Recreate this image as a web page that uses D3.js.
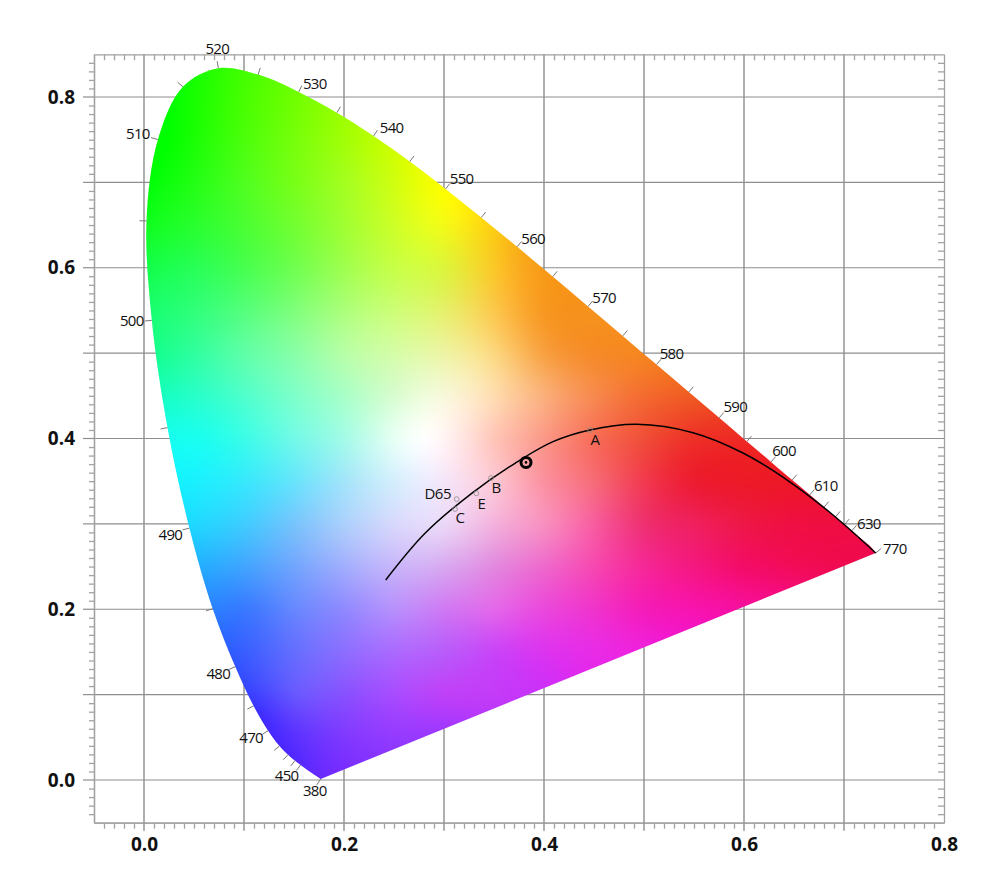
<!DOCTYPE html>
<html><head><meta charset="utf-8">
<script src="https://cdn.jsdelivr.net/npm/d3@7"></script>
<style>html,body{margin:0;padding:0;background:#fff}svg{display:block}text{font-family:"Open Sans",sans-serif;fill:#111}</style>
</head><body><svg id="c" width="1000" height="892"></svg>
<script>
// ---- data ----
const wavelengths=[380,440,450,455,460,465,470,475,480,485,490,495,500,505,510,515,520,525,530,535,540,545,550,555,560,565,570,575,580,585,590,595,600,605,610,615,620,625,630,640,650,770];
const locusX=[.1767,.1644,.1566,.1510,.1440,.1355,.1241,.1096,.0913,.0687,.0454,.0235,.0078,.0025,.0139,.0389,.0743,.1142,.1547,.1929,.2296,.2658,.3016,.3373,.3731,.4087,.4441,.4788,.5125,.5448,.5752,.6029,.6270,.6482,.6658,.6801,.6915,.7006,.7079,.7190,.7260,.7317];
const locusY=[.0012,.0109,.0177,.0227,.0297,.0399,.0578,.0868,.1327,.2007,.2950,.4127,.5384,.6548,.7502,.8120,.8338,.8262,.8059,.7816,.7543,.7243,.6923,.6589,.6245,.5896,.5547,.5202,.4866,.4544,.4242,.3965,.3725,.3514,.3340,.3197,.3083,.2993,.2920,.2809,.2740,.2659];
const tickedWavelengths=[380,450,455,460,465,470,475,480,485,490,495,500,505,510,515,520,525,530,535,540,545,550,555,560,565,570,575,580,585,590,595,600,605,610,615,620,625,630,770];
const labelledWavelengths=[380,450,470,480,490,500,510,520,530,540,550,560,570,580,590,600,610,630,770];
const curveX=[.2417,.281,.3277,.371,.409,.446,.4927,.549,.599,.646,.689,.7317];
const curveY=[.2343,.2890,.3358,.3710,.3963,.4100,.4166,.4068,.3830,.3490,.3104,.2659];
const illumNames=["A","B","E","C","D65"];
const illumX=[.446,.347,.3323,.311,.3127];
const illumY=[.41,.3537,.3358,.3174,.329];
const markerX=[.382];const markerY=[.372];
const majorX=[0,.1,.2,.3,.4,.5,.6,.7];
const majorY=[0,.1,.2,.3,.4,.5,.6,.7,.8];
const xLabels=[0,.2,.4,.6,.8];
const yLabels=[0,.2,.4,.6,.8];
// colour samples of the gradient field: x, y, colour
const fieldSamples=[
[.28,.40,"#ffffff"],[.0743,.8338,"#2cff00"],[.02,.74,"#00ff00"],[.003,.65,"#10ff20"],[.005,.55,"#18ff70"],[.015,.5,"#18ff90"],[.03,.4,"#18fff0"],[.05,.28,"#20c8ff"],[.07,.2,"#2c80ff"],[.09,.13,"#3050ff"],[.11,.08,"#3a2cff"],[.15,.02,"#5028ff"],[.1767,.0012,"#6a28ff"],
[.15,.8,"#70ff00"],[.23,.75,"#bcff00"],[.27,.72,"#e4ff00"],[.3,.69,"#ffff00"],[.34,.655,"#ffd810"],[.38,.62,"#f8a818"],[.45,.55,"#f7931e"],[.5,.5,"#f6861f"],[.55,.45,"#f05a22"],[.6,.4,"#ee2a24"],[.65,.33,"#ee1430"],[.7,.28,"#ef0c48"],[.7317,.2659,"#f00a50"],
[.7,.25,"#f00a50"],[.65,.23,"#f40c70"],[.6,.2,"#f610a0"],[.55,.18,"#f414c0"],[.5,.16,"#f020d8"],[.45,.135,"#e828e8"],[.4,.105,"#cc30f8"],[.3,.06,"#a038ff"],[.25,.04,"#9038ff"],
[.1,.8,"#48ff00"],[.1,.7,"#50ff20"],[.1,.6,"#48ff50"],[.05,.6,"#28ff58"],[.1,.5,"#60ffa8"],[.05,.5,"#30ffa0"],[.1,.4,"#3cfce8"],[.05,.4,"#18fff0"],
[.15,.7,"#78ff18"],[.15,.6,"#70ff50"],[.15,.5,"#88ffa8"],[.15,.4,"#74f9e8"],
[.2,.7,"#a4ff20"],[.2,.6,"#a0ff50"],[.2,.5,"#b8ffa8"],[.2,.45,"#a8ffc8"],[.2,.4,"#a4fbe8"],
[.25,.7,"#d0ff10"],[.25,.6,"#c8ff48"],[.25,.45,"#d8fcd0"],[.25,.4,"#e8fff4"],
[.3,.65,"#f4fa18"],[.3,.6,"#dcf53c"],[.3,.5,"#eef4a4"],[.3,.45,"#f8f8dc"],
[.35,.6,"#fcc828"],[.35,.55,"#fcc84c"],[.35,.5,"#fcd880"],[.35,.45,"#fedcb0"],[.35,.4,"#ffc4b8"],[.35,.35,"#fcc8d4"],[.35,.3,"#f4b0dc"],
[.3,.35,"#f4e4f8"],[.25,.35,"#d4eefc"],[.2,.35,"#a4e4fa"],[.15,.35,"#68e4fc"],[.1,.35,"#38e8fc"],
[.05,.3,"#20d8ff"],[.1,.3,"#40ccff"],[.15,.3,"#78c4fc"],[.2,.3,"#acd0fc"],[.25,.3,"#d8d8fc"],[.3,.3,"#ecd8f8"],
[.1,.2,"#3878ff"],[.15,.2,"#6888ff"],[.2,.2,"#9088ff"],[.25,.2,"#b890fc"],[.3,.2,"#d078f4"],[.35,.2,"#e468ea"],[.4,.2,"#ea48dc"],
[.1,.1,"#3440ff"],[.15,.1,"#6858ff"],[.2,.1,"#8850ff"],[.25,.1,"#a84cff"],[.3,.1,"#c040f8"],[.35,.1,"#c43cf8"],[.15,.05,"#5a30ff"],[.2,.05,"#7f38ff"],
[.4,.55,"#f79820"],[.4,.5,"#f8a040"],[.45,.5,"#f68a28"],[.5,.45,"#f46a30"],[.45,.45,"#f78a50"],[.4,.45,"#fbb07c"],
[.55,.4,"#ee3028"],[.5,.4,"#f04e38"],[.45,.4,"#f86c58"],[.4,.4,"#fb9888"],
[.55,.35,"#ed1c30"],[.6,.35,"#ed1a28"],[.5,.35,"#f23a50"],[.45,.35,"#f66c78"],[.4,.35,"#fb90a0"],
[.65,.3,"#f00f44"],[.6,.3,"#ee1848"],[.55,.3,"#f02060"],[.5,.3,"#ee3070"],[.45,.3,"#f85ca0"],[.4,.3,"#f890c0"],
[.65,.25,"#f20c58"],[.6,.25,"#f40c68"],[.55,.25,"#f41880"],[.5,.25,"#f62898"],[.45,.25,"#f648b0"],[.4,.25,"#ee68cc"],[.35,.25,"#e288e0"],[.3,.25,"#d8a8f0"],
[.55,.2,"#f814b0"],[.5,.2,"#f41cb8"],[.45,.2,"#f034cc"],
[.45,.15,"#e82ce8"],[.4,.15,"#dc34f0"],[.35,.15,"#c844f8"],[.3,.15,"#b85cfa"]
];

// ---- layout ----
const x=d3.scaleLinear().domain([-.05,.8]).range([94,944]);
const y=d3.scaleLinear().domain([-.05,.85]).range([822.7,54.3]);
const svg=d3.select("#c");
const gridCol="#8e8e8e",tickCol="#a3a3a3";

// grid
const grid=svg.append("g");
grid.selectAll(".v").data(majorX).join("line").attr("x1",d=>x(d)).attr("x2",d=>x(d)).attr("y1",y(.85)).attr("y2",y(-.05)).attr("stroke",gridCol).attr("stroke-width",1.4);
grid.selectAll(".h").data(majorY).join("line").attr("y1",d=>y(d)).attr("y2",d=>y(d)).attr("x1",x(-.05)).attr("x2",x(.8)).attr("stroke",gridCol).attr("stroke-width",1.2);

// minor ticks through axes
const minorX=d3.range(-4,80).map(i=>i/100).filter(v=>Math.round(v*100)%10!==0);
const minorY=d3.range(-4,85).map(i=>i/100).filter(v=>Math.round(v*100)%10!==0);
function style(g){g.select(".domain").attr("stroke","#a0a0a0").attr("stroke-width",1.3);g.selectAll(".tick line").attr("stroke",tickCol).attr("stroke-width",1.3);g.selectAll("text").attr("font-family",'"Open Sans",sans-serif').attr("font-weight",700).attr("font-size",19).attr("fill","#000");}
const ax=(a,t)=>svg.append("g").attr("transform",t).call(a).call(style);
ax(d3.axisBottom(x).tickValues(minorX).tickSize(6).tickSizeOuter(0).tickFormat(""),`translate(0,${y(-.05)})`);
ax(d3.axisTop(x).tickValues(minorX).tickSize(-6).tickSizeOuter(0).tickFormat(""),`translate(0,${y(.85)})`);
ax(d3.axisLeft(y).tickValues(minorY).tickSize(5).tickSizeOuter(0).tickFormat(""),`translate(${x(-.05)},0)`);
ax(d3.axisRight(y).tickValues(minorY).tickSize(-6).tickSizeOuter(0).tickFormat(""),`translate(${x(.8)},0)`);
ax(d3.axisBottom(x).tickValues(xLabels).tickSize(8).tickSizeOuter(0).tickPadding(7).tickFormat(d3.format(".1f")),`translate(0,${y(-.05)})`).call(g=>g.selectAll(".tick line").attr("stroke","none"));
ax(d3.axisLeft(y).tickValues(yLabels).tickSize(11).tickSizeOuter(0).tickPadding(8).tickFormat(d3.format(".1f")),`translate(${x(-.05)},0)`).call(g=>g.selectAll(".tick line").attr("stroke","none"));
svg.append("g").selectAll("line").data(majorX).join("line").attr("x1",d=>x(d)).attr("x2",d=>x(d)).attr("y1",y(-.05)).attr("y2",y(-.05)+8).attr("stroke",gridCol).attr("stroke-width",1.4);
svg.append("g").selectAll("line").data(majorY).join("line").attr("y1",d=>y(d)).attr("y2",d=>y(d)).attr("x1",x(-.05)-11).attr("x2",x(-.05)).attr("stroke",gridCol).attr("stroke-width",1.2);

// colour field: smoothed thin-plate spline through the colour samples
function solve(A,b){const n=A.length;A=A.map((r,i)=>[...r,...b[i]]);
 for(let i=0;i<n;i++){let p=i;for(let j=i+1;j<n;j++)if(Math.abs(A[j][i])>Math.abs(A[p][i]))p=j;[A[i],A[p]]=[A[p],A[i]];
  for(let j=0;j<n;j++){if(j===i)continue;const f=A[j][i]/A[i][i];if(f===0)continue;for(let k=i;k<A[i].length;k++)A[j][k]-=f*A[i][k];}}
 return A.map((r,i)=>r.slice(n).map(v=>v/r[i]));}
const U=r2=>r2<=1e-12?0:.5*r2*Math.log(r2);
const fx=fieldSamples.map(d=>d[0]),fy=fieldSamples.map(d=>d[1]);
const N=fx.length,M=N+3,lambda=.0002;
const mat=[],rhs=[];
for(let i=0;i<M;i++){const row=new Array(M).fill(0);
 if(i<N){for(let j=0;j<N;j++){const dx=fx[i]-fx[j],dy=fy[i]-fy[j];row[j]=U(dx*dx+dy*dy);}row[i]+=lambda;row[N]=1;row[N+1]=fx[i];row[N+2]=fy[i];const c=d3.rgb(fieldSamples[i][2]);rhs.push([c.r,c.g,c.b]);}
 else{const k=i-N;for(let j=0;j<N;j++)row[j]=k===0?1:k===1?fx[j]:fy[j];rhs.push([0,0,0]);}
 mat.push(row);}
const w=solve(mat,rhs);
const step=2,cw=500,ch=446;
const cv=document.createElement("canvas");cv.width=cw;cv.height=ch;
const cx=cv.getContext("2d"),im=cx.createImageData(cw,ch);
for(let j=25;j<400;j++)for(let i=65;i<445;i++){
 const dxv=x.invert(i*step+step/2-.5),dyv=y.invert(j*step+step/2-.5);let r=w[N][0]+w[N+1][0]*dxv+w[N+2][0]*dyv,g=w[N][1]+w[N+1][1]*dxv+w[N+2][1]*dyv,b=w[N][2]+w[N+1][2]*dxv+w[N+2][2]*dyv;
 for(let k=0;k<N;k++){const ddx=dxv-fx[k],ddy=dyv-fy[k],u=U(ddx*ddx+ddy*ddy);r+=w[k][0]*u;g+=w[k][1]*u;b+=w[k][2]*u;}
 const o=(j*cw+i)*4;im.data[o]=r;im.data[o+1]=g;im.data[o+2]=b;im.data[o+3]=255;}
cx.putImageData(im,0,0);

const locusPts=wavelengths.map((l,i)=>[locusX[i],locusY[i]]);
const line=d3.line().x(d=>x(d[0])).y(d=>y(d[1]));
const locusPath=line.curve(d3.curveCatmullRom.alpha(.5))(locusPts)+"Z";
svg.append("clipPath").attr("id","cl").append("path").attr("d",locusPath);
svg.append("image").attr("href",cv.toDataURL()).attr("width",1000).attr("height",892).attr("preserveAspectRatio","none").attr("clip-path","url(#cl)");

// wavelength ticks
const idx=l=>wavelengths.indexOf(l);
const N2=locusPts.length;
function normal(i){const a=locusPts[Math.max(0,i-1)],b=locusPts[Math.min(N2-1,i+1)];let dx=x(b[0])-x(a[0]),dy=y(b[1])-y(a[1]);const m=Math.hypot(dx,dy);return [dy/m,-dx/m];}
svg.append("g").selectAll("line").data(tickedWavelengths).join("line")
 .attr("x1",l=>x(locusX[idx(l)])).attr("y1",l=>y(locusY[idx(l)]))
 .attr("x2",l=>x(locusX[idx(l)])+normal(idx(l))[0]*7).attr("y2",l=>y(locusY[idx(l)])+normal(idx(l))[1]*7)
 .attr("stroke","#777").attr("stroke-width",1);
const labelShift={380:[-6,11],450:[-14,10],470:[-17,6],480:[-17,6],490:[-19,6],500:[-20,0],510:[-20,-6.5],520:[-1,-20],530:[16,-9],540:[18,-9],550:[16,-11],560:[16,-9],570:[16,-9],580:[15,-12],590:[16,-12],600:[13,-12],610:[16,-10],630:[17,-8],770:[19,-5]};
svg.append("g").selectAll("text").data(labelledWavelengths).join("text")
 .attr("x",l=>x(locusX[idx(l)])+labelShift[l][0]).attr("y",l=>y(locusY[idx(l)])+labelShift[l][1])
 .attr("text-anchor","middle").attr("dominant-baseline","central").attr("font-size",15).attr("letter-spacing",-.7).text(l=>l);

// black-body curve
svg.append("path").attr("d",d3.line().x(d=>x(d[0])).y(d=>y(d[1])).curve(d3.curveCatmullRom.alpha(.5))(curveX.map((v,i)=>[v,curveY[i]]))).attr("fill","none").attr("stroke","#000").attr("stroke-width",1.5);

// illuminants
svg.append("g").selectAll("circle").data(illumNames).join("circle").attr("cx",(d,i)=>x(illumX[i])).attr("cy",(d,i)=>y(illumY[i])).attr("r",2.4).attr("fill","none").attr("stroke","#8a8a8a").attr("stroke-width",.8);
const illumShift={A:[5,9],B:[5,9],E:[5,10],C:[5,8],"D65":[-19,-6]};
svg.append("g").selectAll("text").data(illumNames).join("text").attr("x",(d,i)=>x(illumX[i])+illumShift[d][0]).attr("y",(d,i)=>y(illumY[i])+illumShift[d][1]).attr("text-anchor","middle").attr("dominant-baseline","central").attr("font-size",15).attr("letter-spacing",-.5).text(d=>d);

// marker
svg.append("circle").attr("cx",x(markerX[0])).attr("cy",y(markerY[0])).attr("r",5).attr("fill","none").attr("stroke","#000").attr("stroke-width",3);
svg.append("circle").attr("cx",x(markerX[0])).attr("cy",y(markerY[0])).attr("r",1.3).attr("fill","#000");
</script></body></html>
